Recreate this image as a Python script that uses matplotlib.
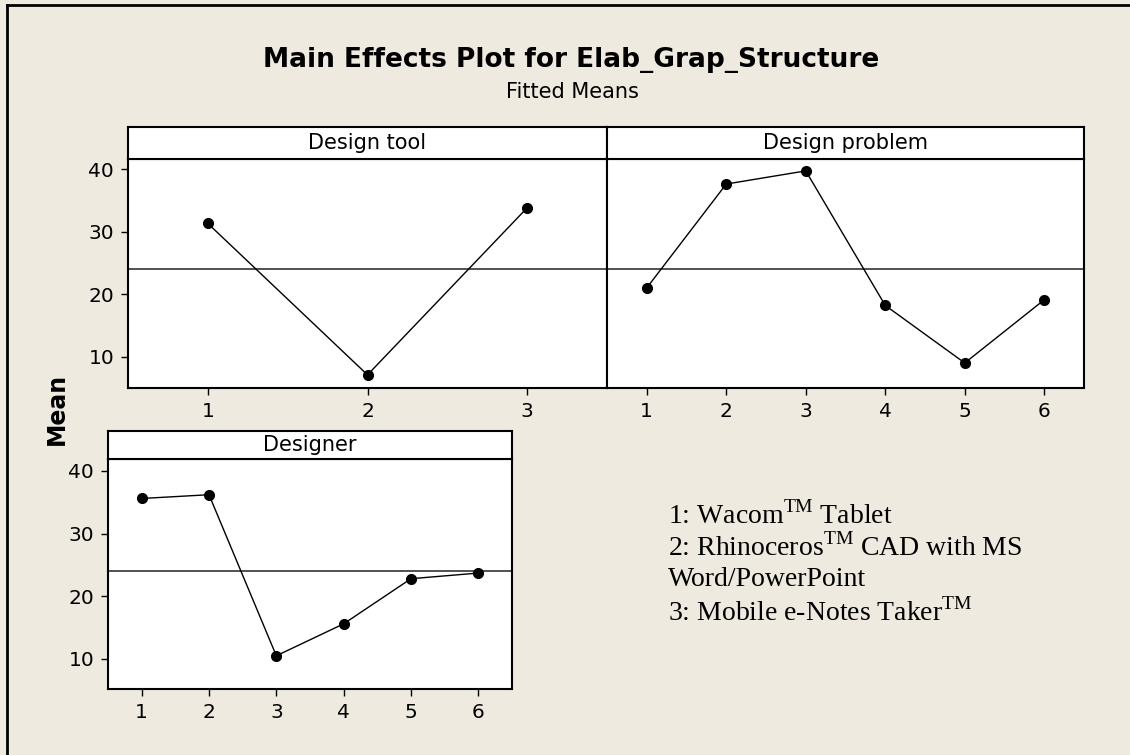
import numpy as np
import matplotlib.pyplot as plt

# -------------------------------
# Data (fitted means)
# -------------------------------
grand_mean = 24.05

tool_levels = [1, 2, 3]
tool_means = [31.3, 7.1, 33.8]

problem_levels = [1, 2, 3, 4, 5, 6]
problem_means = [21.0, 37.6, 39.7, 18.2, 9.0, 19.1]

designer_levels = [1, 2, 3, 4, 5, 6]
designer_means = [35.6, 36.2, 10.5, 15.6, 22.8, 23.7]

y_ticks = [10, 20, 30, 40]

legend_lines = [
    r"1: Wacom$^{\mathrm{TM}}$ Tablet",
    r"2: Rhinoceros$^{\mathrm{TM}}$ CAD with MS",
    "Word/PowerPoint",
    r"3: Mobile e-Notes Taker$^{\mathrm{TM}}$",
]

# -------------------------------
# Style
# -------------------------------
plt.rcParams['font.family'] = ['DejaVu Sans']
plt.rcParams['mathtext.fontset'] = 'custom'
plt.rcParams['mathtext.rm'] = 'Liberation Serif'

BG = '#eeeae0'
W, H = 1130, 755

fig = plt.figure(figsize=(W / 100, H / 100), dpi=100, facecolor=BG)


def px_axes(x0, y0, x1, y1):
    # pixel box (top-left origin) -> figure axes
    return fig.add_axes([x0 / W, 1 - y1 / H, (x1 - x0) / W, (y1 - y0) / H])


def panel(box, strip_top, title, levels, means, xlim, ylim, show_y):
    x0, y0, x1, y1 = box
    ax = px_axes(x0, y0, x1, y1)
    ax.set_facecolor('white')
    ax.plot(levels, means, color='black', lw=1.0, marker='o', ms=7,
            zorder=3)
    ax.axhline(grand_mean, color='#333333', lw=1.2, zorder=2)
    ax.set_xlim(*xlim)
    ax.set_ylim(*ylim)
    ax.set_xticks(levels)
    ax.tick_params(axis='both', direction='out', length=5, width=1,
                   labelsize=14.5, colors='black', pad=5)
    if show_y:
        ax.set_yticks(y_ticks)
    else:
        ax.set_yticks([])
    for s in ax.spines.values():
        s.set_linewidth(1.5)

    # strip on top
    sx = px_axes(x0, strip_top, x1, y0)
    sx.set_facecolor('white')
    sx.set_xticks([])
    sx.set_yticks([])
    for s in sx.spines.values():
        s.set_linewidth(1.5)
    sx.text(0.5, 0.5, title, ha='center', va='center', fontsize=15,
            transform=sx.transAxes)
    return ax


panel((128, 159, 607, 388), 127, 'Design tool', tool_levels, tool_means,
      (0.5, 3.5), (5.0, 41.6), True)
panel((607, 159, 1084, 388), 127, 'Design problem', problem_levels,
      problem_means, (0.5, 6.5), (5.0, 41.6), False)
panel((108, 459, 512, 689), 431, 'Designer', designer_levels,
      designer_means, (0.5, 6.5), (5.2, 41.9), True)

# -------------------------------
# Titles and labels
# -------------------------------
fig.text(571 / W, 1 - 60 / H, 'Main Effects Plot for Elab_Grap_Structure',
         ha='center', va='center', fontsize=19, fontweight='bold')
fig.text(572 / W, 1 - 92 / H, 'Fitted Means', ha='center', va='center',
         fontsize=15)
fig.text(57 / W, 1 - 409 / H, 'Mean', ha='center', va='center',
         rotation=90, fontsize=17, fontweight='bold')

for i, line in enumerate(legend_lines):
    fig.text(668 / W, 1 - (515 + i * 32.5) / H, line, ha='left',
             va='center', fontsize=20, family='Liberation Serif')

# frame edges on left and top
fig.add_artist(plt.Line2D([7 / W, 7 / W], [0, 1 - 5 / H], color='black',
                          lw=2, transform=fig.transFigure))
fig.add_artist(plt.Line2D([7 / W, 1], [1 - 5 / H, 1 - 5 / H], color='black',
                          lw=2, transform=fig.transFigure))

plt.savefig("out.png", dpi=100, facecolor=BG)
